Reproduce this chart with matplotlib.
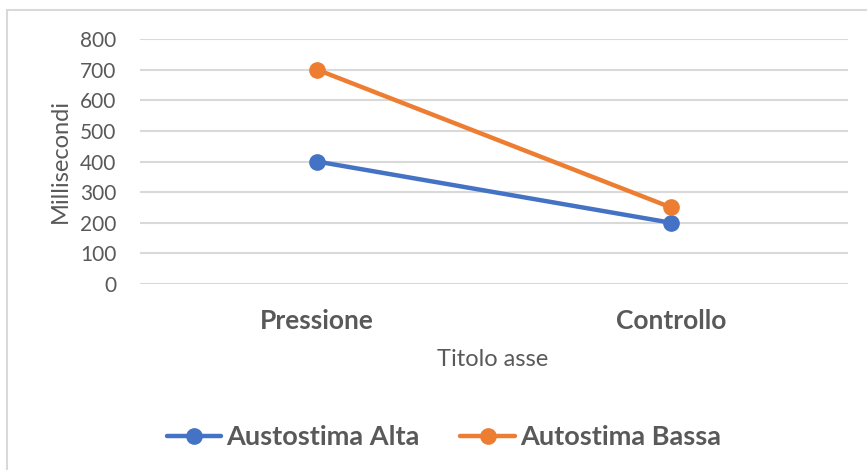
import matplotlib.pyplot as plt
from matplotlib.patches import Rectangle

categories = ["Pressione", "Controllo"]
alta = [400, 200]
bassa = [700, 250]
series_names = ["Austostima Alta", "Autostima Bassa"]
yticks = [0, 100, 200, 300, 400, 500, 600, 700, 800]

blue = "#4472C4"
orange = "#ED7D31"
grey_text = "#595959"
grid_col = "#D9D9D9"

plt.rcParams['font.family'] = ['Lato', 'DejaVu Sans']

W, H = 867, 470
fig = plt.figure(figsize=(W / 100, H / 100), dpi=100)
# light outer frame, open on the right and bottom
fig.patches.append(Rectangle((7 / W, -0.1), 1.2, 1.1 - 10 / H,
                             transform=fig.transFigure, fill=False,
                             edgecolor=grid_col, linewidth=1.5))

ax = fig.add_axes([140 / W, 1 - 284 / H, (848 - 140) / W, (284 - 39) / H])
x = list(range(len(categories)))
ax.plot(x, alta, color=blue, linewidth=3.2, marker="o", markersize=11,
        label=series_names[0], solid_capstyle="round", zorder=3)
ax.plot(x, bassa, color=orange, linewidth=3.2, marker="o", markersize=11,
        label=series_names[1], solid_capstyle="round", zorder=3)

ax.set_xlim(-0.5, 1.5)
ax.set_ylim(0, 800)
ax.set_yticks(yticks)
ax.set_yticklabels([str(v) for v in yticks], fontsize=15, color=grey_text)
ax.set_xticks(x)
ax.set_xticklabels(categories, fontsize=19, fontweight="bold", color=grey_text)
ax.tick_params(axis="both", length=0)
ax.tick_params(axis="y", pad=17)
ax.tick_params(axis="x", pad=18)
ax.grid(axis="y", color=grid_col, linewidth=1.5)
ax.set_axisbelow(True)
for s in ax.spines.values():
    s.set_visible(False)

ax.set_ylabel("Millisecondi", fontsize=17, color=grey_text)
ax.yaxis.set_label_coords(71 / W, 1 - 161 / H, transform=fig.transFigure)
fig.text(493 / W, 1 - 360 / H, "Titolo asse", fontsize=17, color=grey_text,
         ha="center", va="center")

leg = ax.legend(loc="center", bbox_to_anchor=(444 / W, 1 - 437 / H),
                bbox_transform=fig.transFigure, ncol=2, frameon=False,
                handlelength=2.0, handletextpad=0.2, columnspacing=1.5,
                prop={"size": 19.5, "weight": "bold"})
for t in leg.get_texts():
    t.set_color(grey_text)

fig.savefig("out.png", dpi=100)
